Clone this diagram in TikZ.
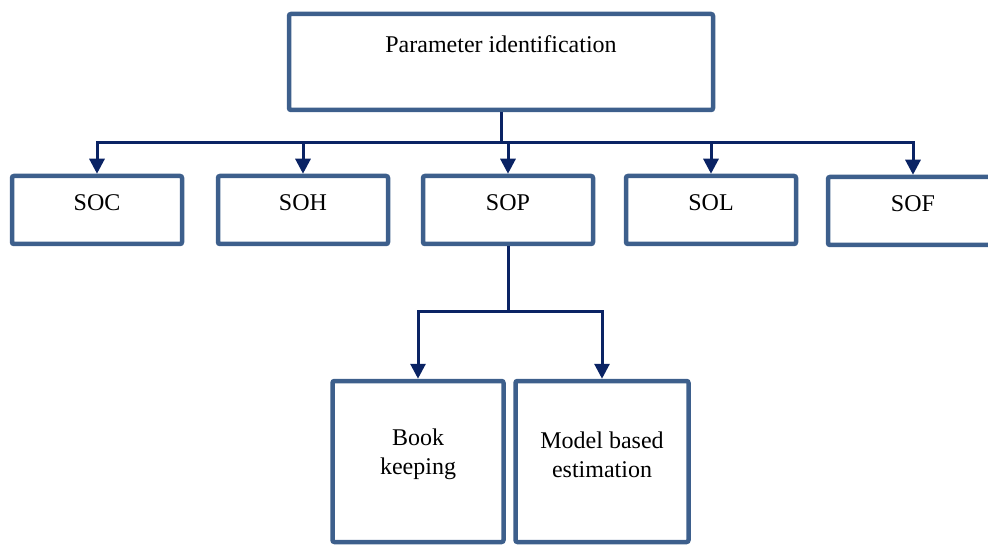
\documentclass[tikz,border=0pt]{standalone}
\usepackage{fontspec}
\setmainfont{Liberation Serif}
\usetikzlibrary{arrows.meta}
\definecolor{boxblue}{HTML}{3D5F8C}
\definecolor{linknavy}{HTML}{0A2364}

\begin{document}
\begin{tikzpicture}[x=1pt, y=-1pt, font=\fontsize{24}{29}\selectfont,
	stbox/.style = {draw=boxblue, line width=4.5pt, rounded corners=2pt, inner sep=0pt,
		minimum width=170pt, minimum height=68pt},
	link/.style = {draw=linknavy, line width=3pt},
	tip/.style = {-{Triangle[width=15pt, length=15pt]}}]
	\useasboundingbox (0,0) rectangle (988,545);
	% top level
	\node[stbox, minimum width=424pt, minimum height=96pt,
		label={[yshift=17.5pt]center:Parameter identification}] (param) at (501,62) {};
	% states
	\node[stbox, label={[yshift=7pt]center:SOC}] (soc) at (97,210) {};
	\node[stbox, label={[yshift=7pt]center:SOH}] (soh) at (303,210) {};
	\node[stbox, label={[yshift=7pt]center:SOP}] (sop) at (508,210) {};
	\node[stbox, label={[yshift=7pt]center:SOL}] (sol) at (711,210) {};
	\node[stbox, label={[yshift=7pt]center:SOF}] (sof) at (913,211) {};
	% SOP methods
	\node[stbox, minimum width=171pt, minimum height=161pt,
		label={[yshift=7pt, align=center]center:Book\\keeping}] (book) at (418,461.5) {};
	\node[stbox, minimum width=173pt, minimum height=161pt,
		label={[yshift=7pt, align=center]center:Model based\\estimation}] (model) at (602,461.5) {};
	\coordinate (hub) at (501,142.5);
	\coordinate (sophub) at (508,312);
	\draw[link] (param) -- (hub);
	\draw[link, tip] (hub) -| (soc);
	\draw[link, tip] (hub) -| (soh);
	\draw[link, tip] (hub) -| (sop);
	\draw[link, tip] (hub) -| (sol);
	\draw[link, tip] (hub) -| (sof);
	\draw[link] (sop) -- (sophub);
	\draw[link, tip] (sophub) -| (book);
	\draw[link, tip] (sophub) -| (model);
\end{tikzpicture}
\end{document}
